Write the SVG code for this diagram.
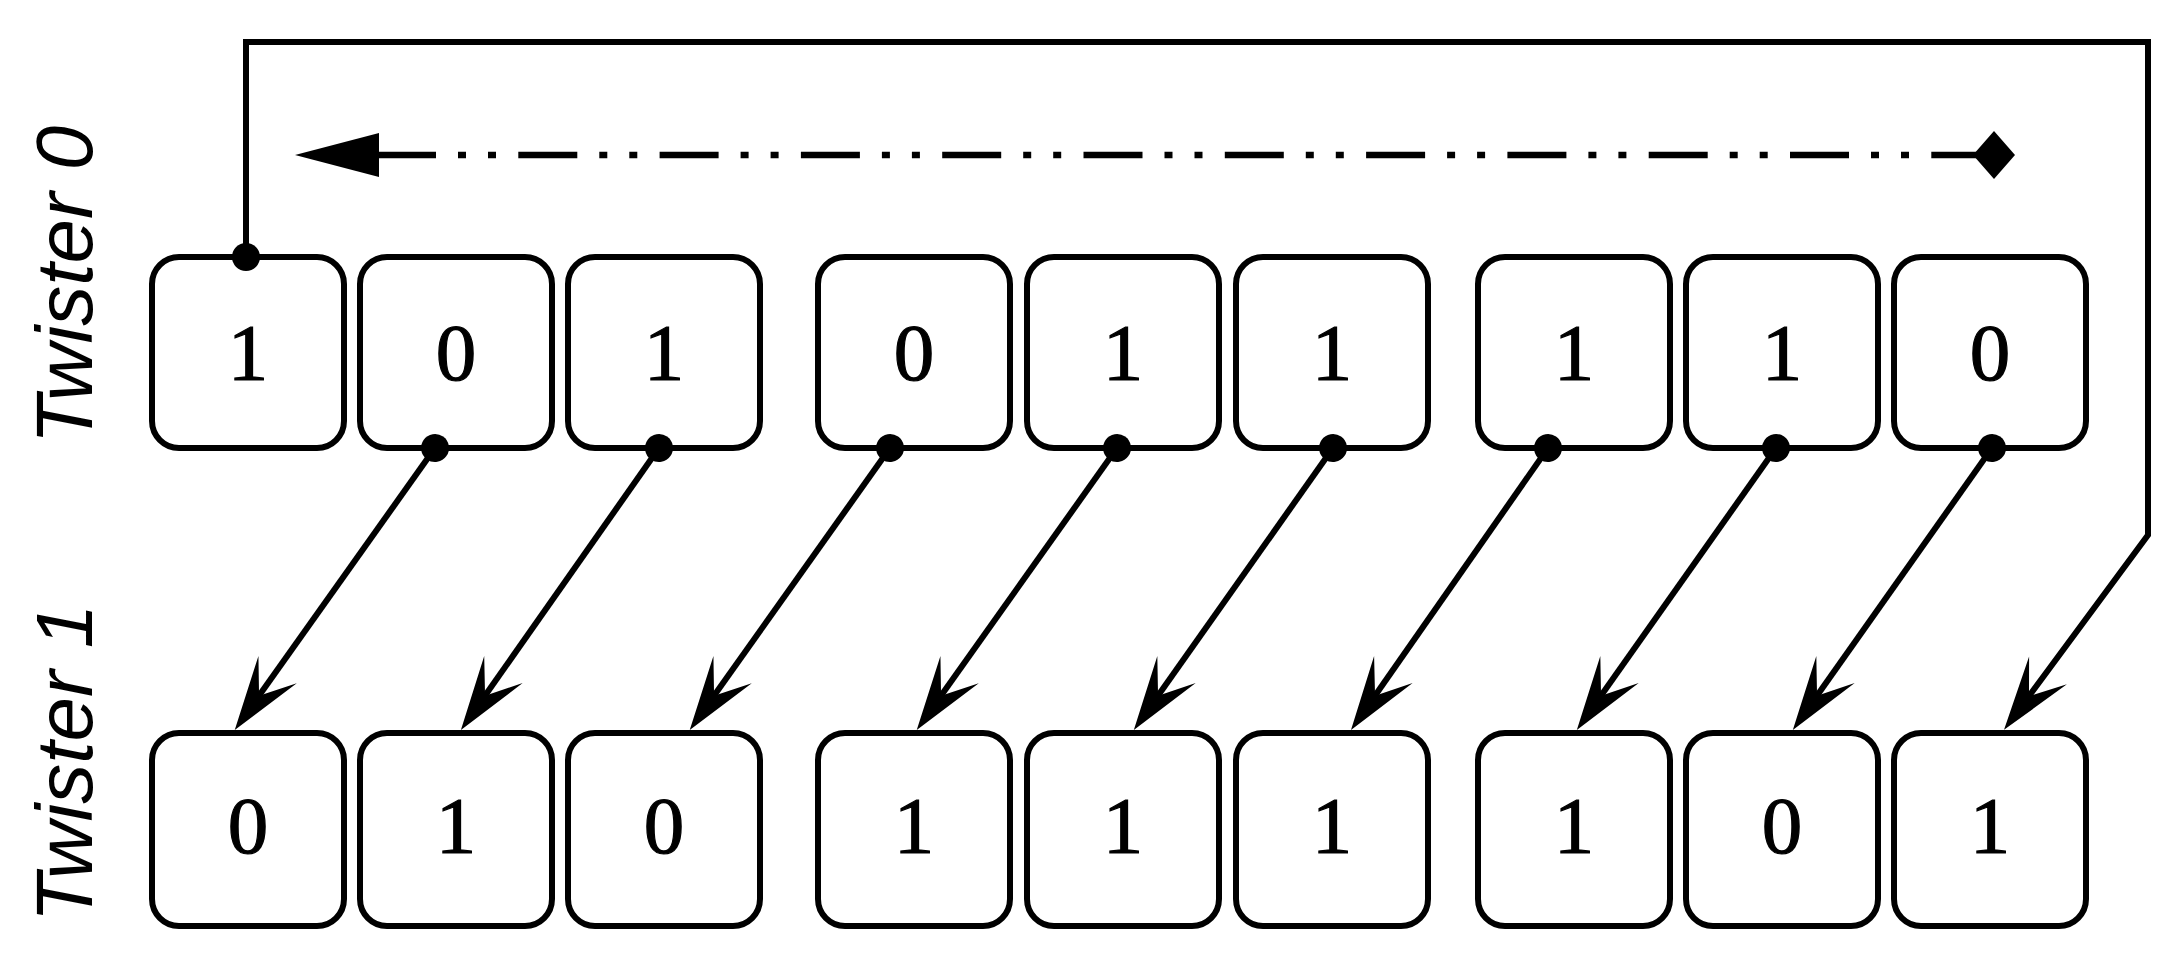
<svg xmlns="http://www.w3.org/2000/svg" width="2179" height="959" viewBox="0 0 2179 959">
  <style>
    .box { fill: #ffffff; stroke: #000000; stroke-width: 6; }
    .bit { font-family: "Liberation Serif", "Times New Roman", serif; font-size: 81px; fill: #000000; stroke: #000000; stroke-width: 1.2; text-anchor: middle; }
    .lbl { font-family: "Liberation Sans", Arial, sans-serif; font-style: italic; font-size: 80px; fill: #000000; text-anchor: middle; }
    .wire { fill: none; stroke: #000000; stroke-width: 6; }
    .flow { marker-start: url(#dot); marker-end: url(#arrow); }
    .dashdot { fill: none; stroke: #000000; stroke-width: 6.5; stroke-dasharray: 59 22 8 22 8 22.3; }
  </style>
  <defs>
    <marker id="arrow" markerUnits="userSpaceOnUse" viewBox="-40 -30 90 60" markerWidth="90" markerHeight="60" refX="0" refY="0" orient="auto" overflow="visible">
      <path d="M40,0 L-34,-23.5 L-2,0 L-34,23.5 Z" fill="#000000"/>
    </marker>
    <marker id="dot" markerUnits="userSpaceOnUse" viewBox="-15 -15 30 30" markerWidth="30" markerHeight="30" refX="0" refY="0" orient="auto" overflow="visible">
      <circle cx="0" cy="0" r="14" fill="#000000"/>
    </marker>
    <marker id="tri" markerUnits="userSpaceOnUse" viewBox="-90 -30 100 60" markerWidth="100" markerHeight="60" refX="0" refY="0" orient="auto" overflow="visible">
      <path d="M2,-22 L-82,0 L2,22 Z" fill="#000000"/>
    </marker>
    <marker id="diamond" markerUnits="userSpaceOnUse" viewBox="-30 -30 60 60" markerWidth="60" markerHeight="60" refX="0" refY="0" orient="auto" overflow="visible">
      <path d="M-21,0 L0,-24 L21,0 L0,24 Z" fill="#000000"/>
    </marker>
  </defs>

  <rect x="0" y="0" width="2179" height="959" fill="#ffffff"/>

  <!-- Row labels -->
  <g id="label-twister0">
    <text class="lbl" transform="translate(92,285) rotate(-90)">Twister 0</text>
  </g>
  <g id="label-twister1">
    <text class="lbl" transform="translate(92,763) rotate(-90)">Twister 1</text>
  </g>

  <!-- Twister 0 row -->
  <g id="t0-b1"><rect class="box" x="152" y="257" width="192" height="191" rx="27"/><text class="bit" x="248" y="380">1</text></g>
  <g id="t0-b2"><rect class="box" x="360" y="257" width="192" height="191" rx="27"/><text class="bit" x="456" y="380">0</text></g>
  <g id="t0-b3"><rect class="box" x="568" y="257" width="192" height="191" rx="27"/><text class="bit" x="664" y="380">1</text></g>
  <g id="t0-b4"><rect class="box" x="818" y="257" width="192" height="191" rx="27"/><text class="bit" x="914" y="380">0</text></g>
  <g id="t0-b5"><rect class="box" x="1027" y="257" width="192" height="191" rx="27"/><text class="bit" x="1123" y="380">1</text></g>
  <g id="t0-b6"><rect class="box" x="1236" y="257" width="192" height="191" rx="27"/><text class="bit" x="1332" y="380">1</text></g>
  <g id="t0-b7"><rect class="box" x="1478" y="257" width="192" height="191" rx="27"/><text class="bit" x="1574" y="380">1</text></g>
  <g id="t0-b8"><rect class="box" x="1686" y="257" width="192" height="191" rx="27"/><text class="bit" x="1782" y="380">1</text></g>
  <g id="t0-b9"><rect class="box" x="1894" y="257" width="192" height="191" rx="27"/><text class="bit" x="1990" y="380">0</text></g>

  <!-- Twister 1 row -->
  <g id="t1-b1"><rect class="box" x="152" y="733" width="192" height="193" rx="27"/><text class="bit" x="248" y="853">0</text></g>
  <g id="t1-b2"><rect class="box" x="360" y="733" width="192" height="193" rx="27"/><text class="bit" x="456" y="853">1</text></g>
  <g id="t1-b3"><rect class="box" x="568" y="733" width="192" height="193" rx="27"/><text class="bit" x="664" y="853">0</text></g>
  <g id="t1-b4"><rect class="box" x="818" y="733" width="192" height="193" rx="27"/><text class="bit" x="914" y="853">1</text></g>
  <g id="t1-b5"><rect class="box" x="1027" y="733" width="192" height="193" rx="27"/><text class="bit" x="1123" y="853">1</text></g>
  <g id="t1-b6"><rect class="box" x="1236" y="733" width="192" height="193" rx="27"/><text class="bit" x="1332" y="853">1</text></g>
  <g id="t1-b7"><rect class="box" x="1478" y="733" width="192" height="193" rx="27"/><text class="bit" x="1574" y="853">1</text></g>
  <g id="t1-b8"><rect class="box" x="1686" y="733" width="192" height="193" rx="27"/><text class="bit" x="1782" y="853">0</text></g>
  <g id="t1-b9"><rect class="box" x="1894" y="733" width="192" height="193" rx="27"/><text class="bit" x="1990" y="853">1</text></g>

  <!-- Connectors -->
  <g id="connectors">
    <!-- direction indicator -->
    <path class="dashdot" d="M377,155 L1994,155" marker-start="url(#tri)" marker-end="url(#diamond)"/>
    <!-- wrap-around: Twister 0 bit 1 -> Twister 1 bit 9 -->
    <path class="wire flow" d="M246,257 L246,42 L2148,42 L2148,535 L2027.8,697.7"/>
    <!-- shifted bits -->
    <path class="wire flow" d="M435,448 L257.9,697.3"/>
    <path class="wire flow" d="M659,448 L483.9,697.3"/>
    <path class="wire flow" d="M890,448 L712.9,697.3"/>
    <path class="wire flow" d="M1117,448 L939.9,697.3"/>
    <path class="wire flow" d="M1333,448 L1156.9,697.3"/>
    <path class="wire flow" d="M1548,448 L1373.9,697.3"/>
    <path class="wire flow" d="M1776,448 L1599.9,697.3"/>
    <path class="wire flow" d="M1992,448 L1815.9,697.3"/>
  </g>
</svg>
